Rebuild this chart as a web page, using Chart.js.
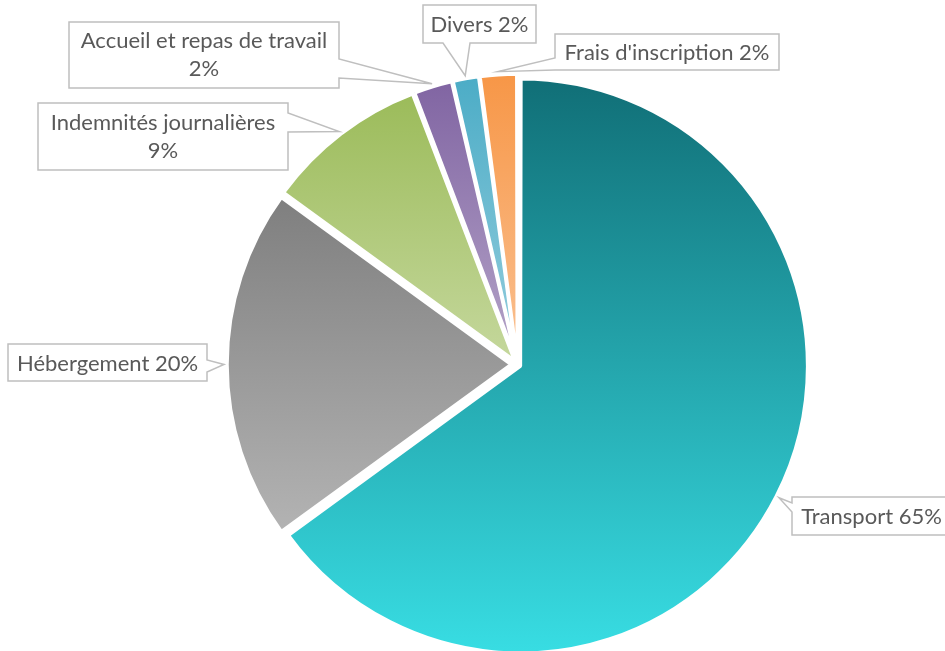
<!DOCTYPE html>
<html>
<head>
<meta charset="utf-8">
<script src="https://cdn.jsdelivr.net/npm/chart.js@4.4.1/dist/chart.umd.min.js"></script>
<style>
  html, body { margin: 0; padding: 0; background: #ffffff; }
  #wrap { width: 945px; height: 651px; position: relative; }
</style>
</head>
<body>
<div id="wrap"><canvas id="c"></canvas></div>
<script>
// ---- data ----
const categories = ['Transport', 'Hébergement', 'Indemnités journalières', 'Accueil et repas de travail', 'Divers', "Frais d'inscription"];
const values = [65.0, 20.0, 9.2, 2.2, 1.5, 2.1];

// ---- styles ----
const topColors    = ['#117078', '#7F7F7F', '#9BBB59', '#8064A2', '#4BACC6', '#F79646'];
const bottomColors = ['#38DDE3', '#B3B3B3', '#C4D79B', '#B3A2C7', '#93CDDD', '#FAC090'];
const RADIUS = 284;
const EXPLODE = 6.5;   // px displacement of each slice
const BORDER = 3.5;

// callout boxes (layout): x, y, w, h, side of pointer, base range along side, two-line label
const callouts = [
  { x: 792, y: 497, w: 156, h: 38, side: 'left',   base: [6, 15],  twoLine: false },
  { x: 8,   y: 344, w: 199, h: 37, side: 'right',  base: [16, 28], twoLine: false },
  { x: 38,  y: 103, w: 250, h: 67, side: 'right',  base: [10, 29], twoLine: true },
  { x: 69,  y: 22,  w: 270, h: 66, side: 'right',  base: [37, 56], twoLine: true },
  { x: 423, y: 5,   w: 113, h: 38, side: 'bottom', base: [20, 47], twoLine: false },
  { x: 555, y: 34,  w: 224, h: 36, side: 'left',   base: [24, 36], twoLine: false }
];

const total = values.reduce((a, b) => a + b, 0);
const pct = v => Math.round(v / total * 100) + '%';

function sliceAngles(i) {
  let cum = 0;
  for (let k = 0; k < i; k++) cum += values[k];
  const s = -Math.PI / 2 + cum / total * 2 * Math.PI;
  const e = s + values[i] / total * 2 * Math.PI;
  return [s, e];
}
function translationFactor(i) {
  const circ = values[i] / total * 2 * Math.PI;
  const fix = 1 - Math.sin(Math.min(Math.PI, circ));
  return (1 + fix) / 4;
}

function gradientFor(ctx) {
  const chart = ctx.chart;
  const ca = chart.chartArea;
  const i = ctx.dataIndex;
  if (!ca || i === undefined) return topColors[i || 0];
  const cx = (ca.left + ca.right) / 2, cy = (ca.top + ca.bottom) / 2;
  const [s, e] = sliceAngles(i);
  const mid = (s + e) / 2;
  const dy = Math.sin(mid) * EXPLODE;
  const ys = [cy, cy + Math.sin(s) * RADIUS, cy + Math.sin(e) * RADIUS];
  for (const a of [-Math.PI / 2, Math.PI / 2, 3 * Math.PI / 2]) {
    if (a >= s && a <= e) ys.push(cy + Math.sin(a) * RADIUS);
  }
  const y0 = Math.min(...ys) + dy, y1 = Math.max(...ys) + dy;
  const g = chart.ctx.createLinearGradient(0, y0, 0, y1);
  g.addColorStop(0, topColors[i]);
  g.addColorStop(1, bottomColors[i]);
  return g;
}

const calloutPlugin = {
  id: 'callouts',
  afterDatasetsDraw(chart) {
    const ctx = chart.ctx;
    const meta = chart.getDatasetMeta(0);
    ctx.save();
    ctx.font = '22px Lato, "Open Sans", sans-serif';
    ctx.textAlign = 'center';
    ctx.textBaseline = 'middle';
    meta.data.forEach((arc, i) => {
      const c = callouts[i];
      const mid = (arc.startAngle + arc.endAngle) / 2;
      const rr = arc.outerRadius + EXPLODE + 3;
      const tx = arc.x + Math.cos(mid) * rr;
      const ty = arc.y + Math.sin(mid) * rr;
      const { x, y, w, h } = c;
      const [b0, b1] = c.base;
      ctx.beginPath();
      ctx.moveTo(x, y);
      ctx.lineTo(x + w, y);
      if (c.side === 'right') {
        ctx.lineTo(x + w, y + b0); ctx.lineTo(tx, ty); ctx.lineTo(x + w, y + b1);
      }
      ctx.lineTo(x + w, y + h);
      if (c.side === 'bottom') {
        ctx.lineTo(x + b1, y + h); ctx.lineTo(tx, ty); ctx.lineTo(x + b0, y + h);
      }
      ctx.lineTo(x, y + h);
      if (c.side === 'left') {
        ctx.lineTo(x, y + b1); ctx.lineTo(tx, ty); ctx.lineTo(x, y + b0);
      }
      ctx.closePath();
      ctx.fillStyle = '#ffffff';
      ctx.fill();
      ctx.lineWidth = 1.5;
      ctx.strokeStyle = '#BFBFBF';
      ctx.stroke();
      ctx.fillStyle = '#595959';
      const name = categories[i];
      const p = pct(values[i]);
      const tcx = x + (c.side === 'left' && x + w > 945 ? (945 - x) / 2 + 3 : w / 2);
      if (c.twoLine) {
        ctx.fillText(name, tcx, y + h / 2 - 14);
        ctx.fillText(p, tcx, y + h / 2 + 14);
      } else {
        ctx.fillText(name + ' ' + p, tcx, y + h / 2 + 1);
      }
    });
    ctx.restore();
  }
};

new Chart(document.getElementById('c'), {
  type: 'pie',
  data: {
    labels: categories,
    datasets: [{
      data: values,
      backgroundColor: gradientFor,
      borderColor: '#ffffff',
      borderWidth: BORDER,
      offset: ctx => EXPLODE / translationFactor(ctx.dataIndex || 0),
      hoverOffset: 0
    }]
  },
  options: {
    responsive: true,
    maintainAspectRatio: false,
    animation: false,
    radius: RADIUS,
    layout: { padding: { left: 95, right: 5, top: 82, bottom: 4 } },
    plugins: {
      legend: { display: false },
      tooltip: { enabled: false }
    },
    events: []
  },
  plugins: [calloutPlugin]
});
</script>
</body>
</html>
